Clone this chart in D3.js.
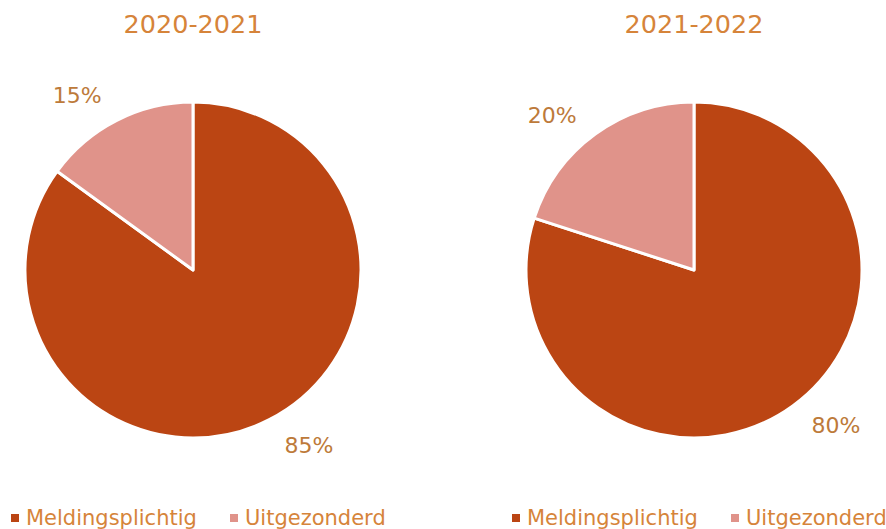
<!DOCTYPE html>
<html>
<head>
<meta charset="utf-8">
<script src="https://cdn.jsdelivr.net/npm/d3@7"></script>
<style>
  body { margin: 0; background: #fff; }
  svg text { font-family: "DejaVu Sans", Verdana, sans-serif; }
</style>
</head>
<body>
<svg id="chart" width="886" height="529"></svg>
<script>
let years = ['2020-2021', '2021-2022'];
let categories = ['Meldingsplichtig', 'Uitgezonderd'];
let values2021 = [85, 15];
let values2022 = [80, 20];
let seriesValues = [values2021, values2022];

let colorDark = '#bb4513';
let colorLight = '#e0938a';
let colorText = '#d6843a';
let colorLabel = '#bd7a3a';

let svg = d3.select('#chart');
let color = d3.scaleOrdinal().domain(categories).range([colorDark, colorLight]);
let pie = d3.pie().sort(null).value(d => d.value);
let radius = 168;
let arc = d3.arc().innerRadius(0).outerRadius(radius);
let labelRadius = 210;
// labels sit a little counter-clockwise of the slice middle, as in the original
let labelShift = -6.5 * Math.PI / 180;

let centersX = [193, 694];
let centerY = 270;

function labelPos(d) {
    let a = (d.startAngle + d.endAngle) / 2 + labelShift;
    return [labelRadius * Math.sin(a), -labelRadius * Math.cos(a)];
}

years.forEach(function (year, i) {
    let data = categories.map((c, j) => ({name: c, value: seriesValues[i][j]}));
    let g = svg.append('g').attr('transform', 'translate(' + centersX[i] + ',' + centerY + ')');

    svg.append('text')
        .attr('x', centersX[i])
        .attr('y', 33)
        .attr('text-anchor', 'middle')
        .attr('font-size', 25.5)
        .attr('fill', colorText)
        .text(year);

    let arcs = pie(data);
    g.selectAll('path')
        .data(arcs)
        .join('path')
        .attr('d', arc)
        .attr('fill', d => color(d.data.name))
        .attr('stroke', '#fff')
        .attr('stroke-width', 3)
        .attr('stroke-linejoin', 'round');

    g.selectAll('text.lbl')
        .data(arcs)
        .join('text')
        .attr('class', 'lbl')
        .attr('transform', d => 'translate(' + labelPos(d) + ')')
        .attr('text-anchor', 'middle')
        .attr('dy', '0.35em')
        .attr('font-size', 22)
        .attr('fill', colorLabel)
        .text(d => d.data.value + '%');

    // legend
    let legendX = [centersX[i] - 182, centersX[i] + 37];
    categories.forEach(function (c, j) {
        svg.append('rect')
            .attr('x', legendX[j])
            .attr('y', 514)
            .attr('width', 8)
            .attr('height', 8)
            .attr('fill', color(c));
        svg.append('text')
            .attr('x', legendX[j] + 15)
            .attr('y', 525)
            .attr('font-size', 21)
            .attr('fill', colorText)
            .text(c);
    });
});
</script>
</body>
</html>
